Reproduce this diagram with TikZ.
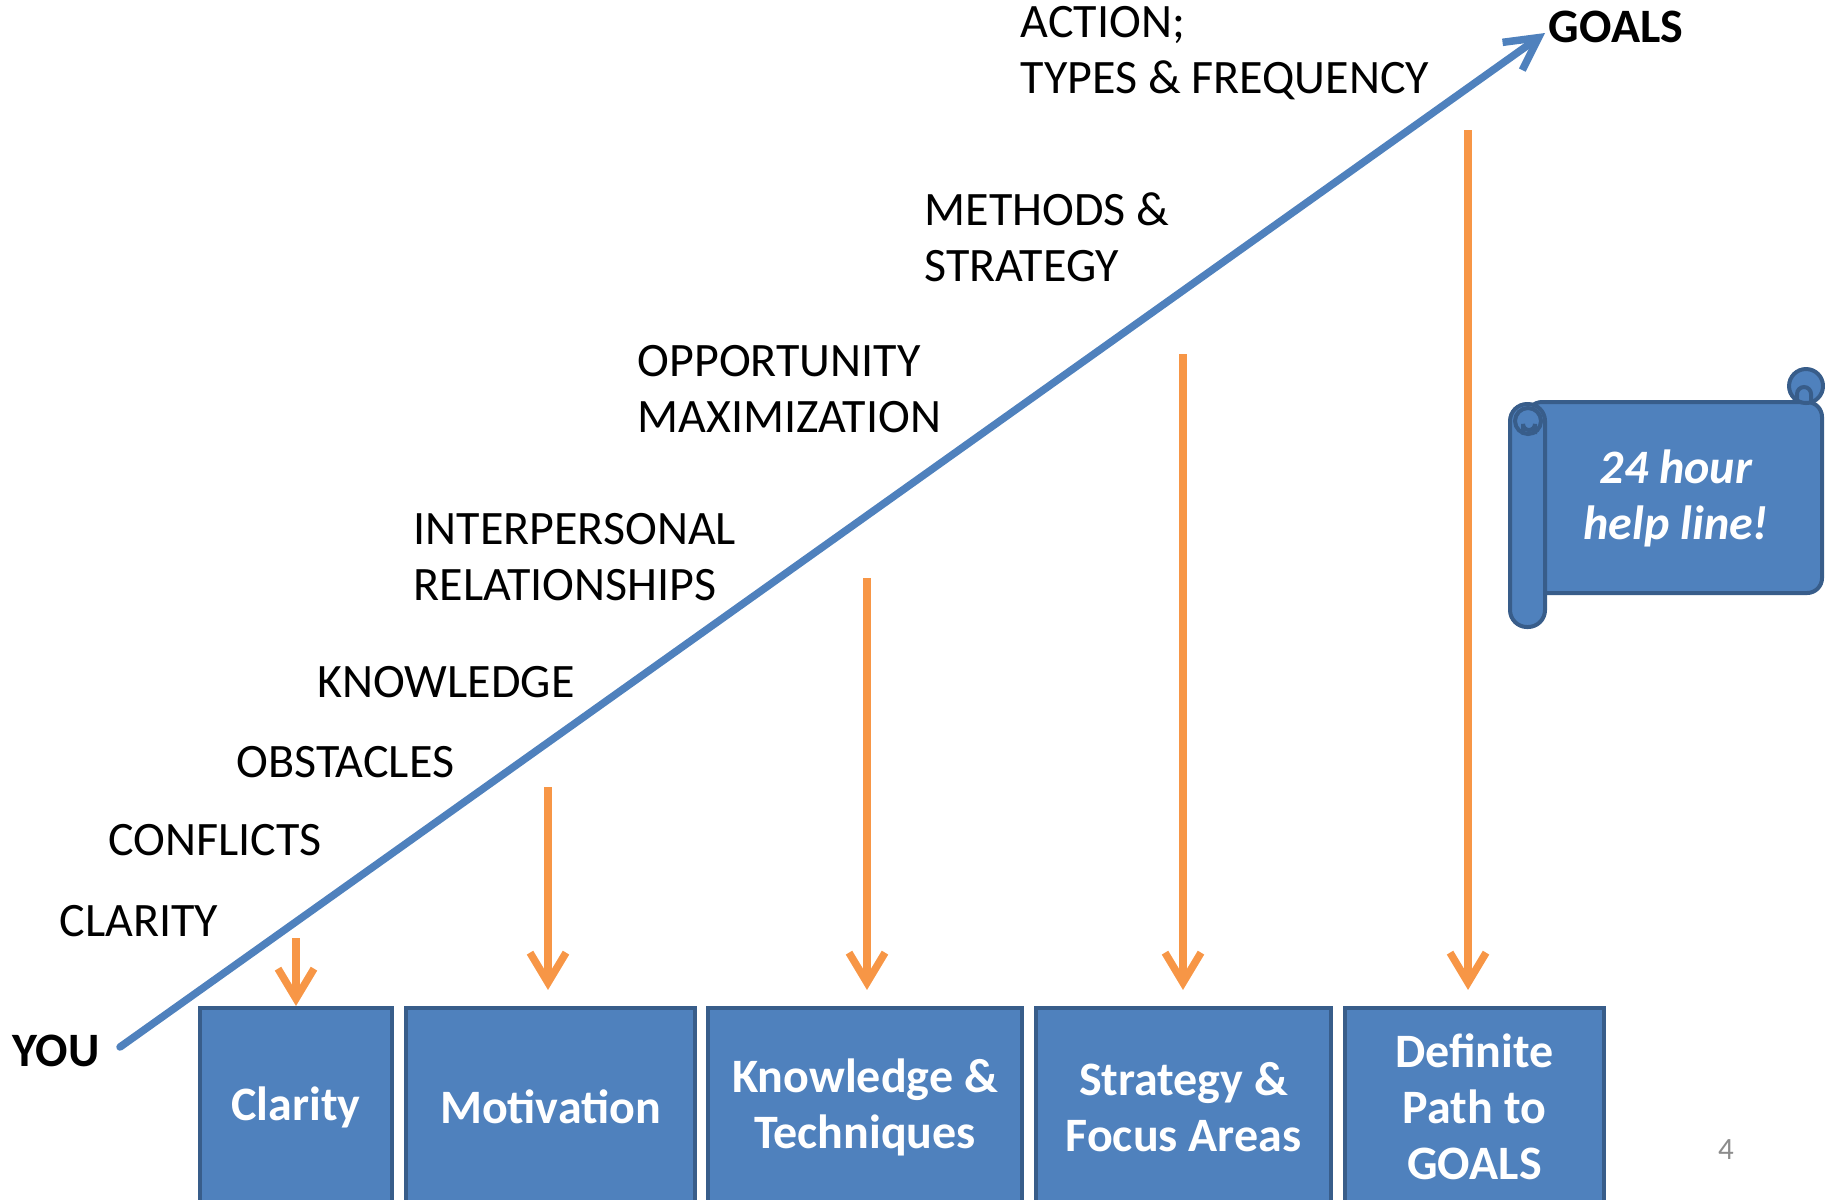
\documentclass[tikz,border=0pt]{standalone}
\usepackage{fontspec}
\setmainfont{Carlito}
\usetikzlibrary{arrows.meta,positioning}
\newcommand\slidesize{\fontsize{13.65}{15.9}\selectfont}
\definecolor{colorbox}{HTML}{4F81BD}
\definecolor{colorframe}{HTML}{385D8A}
\definecolor{colorpush}{HTML}{F79646}
\definecolor{colorpage}{HTML}{8C8C8C}
\tikzset{
  stage/.style={draw=colorframe, fill=colorbox, line width=0.04cm, text=white,
    font=\bfseries\slidesize, align=center, minimum height=1.98cm, inner sep=0pt},
  rung/.style={draw=none, inner sep=0pt, anchor=west, align=left, font=\slidesize},
  edgerise/.style={colorbox, line width=0.075cm, line cap=round,
    -{Straight Barb[length=0.32cm, width=0.34cm]}},
  edgepush/.style={colorpush, line width=0.075cm,
    -{Straight Barb[length=0.3cm, width=0.36cm]}},
  scroll/.style={draw=colorframe, fill=colorbox, line width=0.04cm}
}

\begin{document}
\begin{tikzpicture}[x=0.01cm, y=-0.01cm]
\useasboundingbox (0,0) rectangle (1825,1199);
\clip (0,0) rectangle (1825,1199);

\node[stage, minimum width=1.92cm](b1) at (296,1107) {Clarity};

\node[stage, minimum width=2.89cm](b2) at (550.5,1107) {Motivation};

\node[stage, minimum width=3.14cm](b3) at (865,1107) {Knowledge \&\\Techniques};

\node[stage, minimum width=2.95cm](b4) at (1183.5,1107) {Strategy \&\\Focus Areas};

\node[stage, minimum width=2.59cm](b5) at (1474.5,1107) {Definite\\Path to\\GOALS};

\node[rung](clarity) at (59,921) {CLARITY};

\node[rung](conflicts) at (108,840) {CONFLICTS};

\node[rung](obstacles) at (236,762) {OBSTACLES};

\node[rung](knowledge) at (317,682) {KNOWLEDGE};

\node[rung](relations) at (413,557) {INTERPERSONAL\\RELATIONSHIPS};

\node[rung](opportunity) at (637,389) {OPPORTUNITY\\MAXIMIZATION};

\node[rung](methods) at (924,237) {METHODS \&\\STRATEGY};

\node[rung](action) at (1020,53) {ACTION;\\TYPES \& FREQUENCY};

\node[rung, font=\bfseries\slidesize](you) at (12,1051) {YOU};

\node[rung, font=\bfseries\slidesize](goals) at (1548,27) {GOALS};

\coordinate (rise0) at (120,1047);
\coordinate (rise1) at (1545,33);
\draw[edgerise] (rise0) -- (rise1);

\coordinate (p1) at (296,938);
\coordinate (p2) at (548,787);
\coordinate (p3) at (867,578);
\coordinate (p4) at (1183,354);
\coordinate (p5) at (1468,130);

\draw[edgepush] (p1) -- (p1 |- b1.north);
\foreach \i in {2,...,5}
  \draw[edgepush, shorten >=0.16cm] (p\i) -- (p\i |- b\i.north);

\draw[scroll, rounded corners=0.15cm] (1527,402) rectangle (1822,593);
\draw[scroll] (1806,386) circle[radius=17];
\draw[colorframe, line width=0.04cm] (1797,402) -- (1797,394) arc[start angle=180, end angle=360, radius=7] -- (1811,402);
\draw[scroll, rounded corners=0.17cm] (1510,404) rectangle (1545,627);
\draw[scroll] (1528,421) circle[radius=13];
\draw[colorframe, line width=0.04cm] (1523,434) -- (1523,424) arc[start angle=180, end angle=0, radius=6] -- (1535,434);

\node[font=\bfseries\itshape\slidesize, text=white, align=center, inner sep=0pt](help) at (1676,498) {24 hour\\help line!};

\node[font=\fontsize{8.8}{10}\selectfont, text=colorpage, inner sep=0pt](page) at (1726,1150) {4};
\end{tikzpicture}
\end{document}
